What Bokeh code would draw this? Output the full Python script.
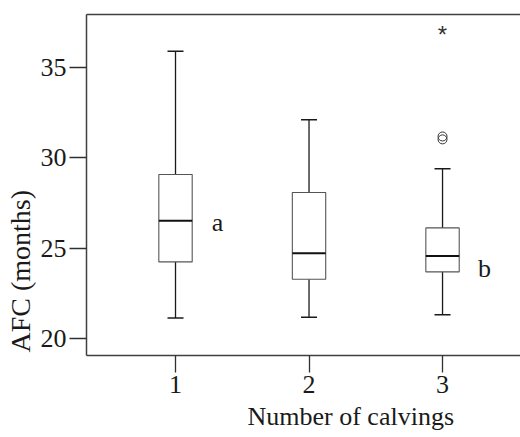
from bokeh.plotting import figure
from bokeh.models import Range1d, FixedTicker, LinearAxis, Title
from bokeh.core.properties import value
from bokeh.embed import file_html
from bokeh.resources import INLINE

# ---- data ----
categories = [1, 2, 3]
tick_labels = ["1", "2", "3"]
q1 = [24.24, 23.28, 23.69]
median = [26.51, 24.72, 24.56]
q3 = [29.08, 28.08, 26.12]
whisker_low = [21.13, 21.18, 21.31]
whisker_high = [35.89, 32.11, 29.39]
outlier_x = [3, 3]
outlier_y = [31.02, 31.18]
extreme_x = [3]
extreme_y = [37.09]
letter_x = [1, 3]
letter_y = [26.44, 23.89]
letter_text = ["a", "b"]
y_ticks = [20, 25, 30, 35]

SERIF = "Liberation Serif"
box_w = 0.25
cap_w = 0.12

p = figure(width=520, height=437, output_backend="svg", toolbar_location=None,
           x_range=Range1d(0.3333, 3.584), y_range=Range1d(19.06, 37.93),
           min_border_left=86, min_border_right=0, min_border_top=14,
           min_border_bottom=82, x_axis_type=None, y_axis_type=None)
p.grid.visible = False
p.outline_line_color = None
p.background_fill_color = "white"
p.border_fill_color = "white"

# axes
xa = LinearAxis(ticker=FixedTicker(ticks=categories),
                major_label_overrides={c: t for c, t in zip(categories, tick_labels)})
ya = LinearAxis(ticker=FixedTicker(ticks=y_ticks))
for ax in (xa, ya):
    ax.axis_line_color = "#404040"
    ax.axis_line_width = 1.5
    ax.major_tick_line_color = "#303030"
    ax.major_tick_line_width = 1.3
    ax.major_tick_in = 0
    ax.major_tick_out = 17
    ax.minor_tick_line_color = None
    ax.major_label_text_font = SERIF
    ax.major_label_text_font_size = "26px"
    ax.major_label_text_color = "#1a1a1a"
xa.major_label_standoff = 3
ya.major_label_standoff = 3
p.add_layout(xa, "below")
p.add_layout(ya, "left")

top = LinearAxis(ticker=FixedTicker(ticks=[]))
top.axis_line_color = "#404040"
top.axis_line_width = 1.5
top.major_tick_line_color = None
top.minor_tick_line_color = None
top.major_label_text_font_size = "0px"
top.major_label_standoff = 0
p.add_layout(top, "above")

# axis titles
p.add_layout(Title(text="Number of calvings", align="left", offset=161,
                   text_font=SERIF, text_font_size="26px", text_font_style="normal",
                   text_color="#1a1a1a", standoff=9), "below")
p.add_layout(Title(text="AFC (months)", align="left", offset=3,
                   text_font=SERIF, text_font_size="28px", text_font_style="normal",
                   text_color="#1a1a1a", standoff=4), "left")

# whiskers
p.segment(x0=categories, y0=q3, x1=categories, y1=whisker_high,
          line_color="#1a1a1a", line_width=1.3)
p.segment(x0=categories, y0=q1, x1=categories, y1=whisker_low,
          line_color="#1a1a1a", line_width=1.3)
# caps
p.segment(x0=[c - cap_w / 2 for c in categories], y0=whisker_high,
          x1=[c + cap_w / 2 for c in categories], y1=whisker_high,
          line_color="#1a1a1a", line_width=1.5)
p.segment(x0=[c - cap_w / 2 for c in categories], y0=whisker_low,
          x1=[c + cap_w / 2 for c in categories], y1=whisker_low,
          line_color="#1a1a1a", line_width=1.5)
# boxes
p.vbar(x=categories, bottom=q1, top=q3, width=box_w, fill_color="white",
       line_color="#555555", line_width=1.1)
# medians
p.segment(x0=[c - box_w / 2 for c in categories], y0=median,
          x1=[c + box_w / 2 for c in categories], y1=median,
          line_color="#111111", line_width=2)

# outliers
p.scatter(outlier_x, outlier_y, marker="circle", size=9, fill_color=None,
          line_color="#333333", line_width=1)
p.text(x=extreme_x, y=extreme_y, text=["*"], text_font=value("Liberation Sans"),
       text_font_size="24px", text_align="center", text_baseline="middle",
       y_offset=5, text_color="#333333")

# group letters
p.text(x=letter_x, y=letter_y, text=letter_text, text_font=value(SERIF),
       text_font_size="26px", text_align="center", text_baseline="alphabetic",
       x_offset=42, text_color="#1a1a1a")

open("out.html", "w").write(file_html(p, INLINE))
